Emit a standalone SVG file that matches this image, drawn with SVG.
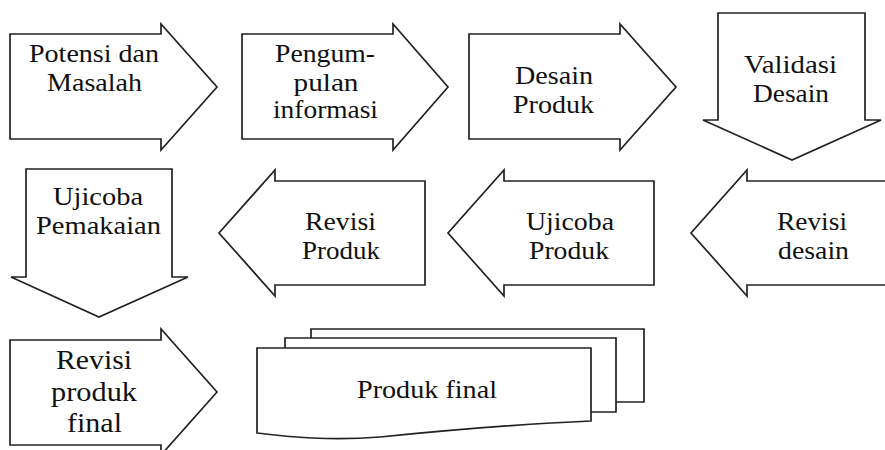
<svg xmlns="http://www.w3.org/2000/svg" width="885" height="450" viewBox="0 0 885 450">
<style>
.s{fill:#fff;stroke:#222;stroke-width:1.7;stroke-linejoin:miter}
.t{font-family:"Liberation Serif","Times New Roman",serif;font-size:25px;fill:#111;text-anchor:middle}
.b{font-size:26.5px}
</style>
<rect width="885" height="450" fill="#fff"/>
<g id="n1"><path class="s" d="M10,34 H161 V24 L217,87 L161,150 V139 H10 Z"/>
<text class="t" x="94" y="62" textLength="130" lengthAdjust="spacingAndGlyphs">Potensi dan</text><text class="t" x="94.5" y="91" textLength="95" lengthAdjust="spacingAndGlyphs">Masalah</text></g>
<g id="n2"><path class="s" d="M242,34 H393 V24 L448,87 L393,150 V139 H242 Z"/>
<text class="t" x="325" y="62" textLength="100" lengthAdjust="spacingAndGlyphs">Pengum-</text><text class="t" x="326" y="91" textLength="65" lengthAdjust="spacingAndGlyphs">pulan</text><text class="t" x="325.5" y="118" textLength="105" lengthAdjust="spacingAndGlyphs">informasi</text></g>
<g id="n3"><path class="s" d="M469,34 H620 V24 L676,87 L620,150 V139 H469 Z"/>
<text class="t" x="554" y="84" textLength="78" lengthAdjust="spacingAndGlyphs">Desain</text><text class="t" x="553.5" y="113" textLength="81" lengthAdjust="spacingAndGlyphs">Produk</text></g>
<g id="n4"><path class="s" d="M718,13 H865 V120 H881 L792,160 L703,120 H718 Z"/>
<text class="t" x="790.5" y="73" textLength="93" lengthAdjust="spacingAndGlyphs">Validasi</text><text class="t" x="791" y="102" textLength="76" lengthAdjust="spacingAndGlyphs">Desain</text></g>
<g id="n5"><path class="s" d="M890,181 H747 V170 L691,233 L747,296 V285 H890"/>
<text class="t" x="812" y="230" textLength="70" lengthAdjust="spacingAndGlyphs">Revisi</text><text class="t" x="813.5" y="259" textLength="71" lengthAdjust="spacingAndGlyphs">desain</text></g>
<g id="n6"><path class="s" d="M654,181 H504 V170 L448,233 L504,296 V285 H654 Z"/>
<text class="t" x="570" y="230" textLength="88" lengthAdjust="spacingAndGlyphs">Ujicoba</text><text class="t" x="569" y="259" textLength="80" lengthAdjust="spacingAndGlyphs">Produk</text></g>
<g id="n7"><path class="s" d="M425,181 H275 V170 L219,233 L275,296 V285 H425 Z"/>
<text class="t" x="340.5" y="230" textLength="71" lengthAdjust="spacingAndGlyphs">Revisi</text><text class="t" x="341" y="259" textLength="78" lengthAdjust="spacingAndGlyphs">Produk</text></g>
<g id="n8"><path class="s" d="M26,169 H172 V277 H188 L99,317 L11,277 H26 Z"/>
<text class="t" x="98" y="205" textLength="90" lengthAdjust="spacingAndGlyphs">Ujicoba</text><text class="t" x="98.5" y="234" textLength="125" lengthAdjust="spacingAndGlyphs">Pemakaian</text></g>
<g id="n9"><path class="s" d="M10,340 H161 V329 L217,392 L161,455 V445 H10 Z"/>
<text class="t b" x="94" y="369" textLength="76" lengthAdjust="spacingAndGlyphs">Revisi</text><text class="t b" x="94" y="401" textLength="86" lengthAdjust="spacingAndGlyphs">produk</text><text class="t b" x="94.5" y="432" textLength="55" lengthAdjust="spacingAndGlyphs">final</text></g>
<g id="n10">
<path class="s" d="M311,338 V329 H644 V402 H616"/>
<path class="s" d="M285,348 V338 H616 V412 H591"/>
<path class="s" d="M257,348 H591 V421 C520,424 450,430 380,437 C330,441 290,437 257,433 Z"/>
<text class="t" x="427" y="398" textLength="140" lengthAdjust="spacingAndGlyphs">Produk final</text></g>
<g id="connectors"></g>
</svg>
